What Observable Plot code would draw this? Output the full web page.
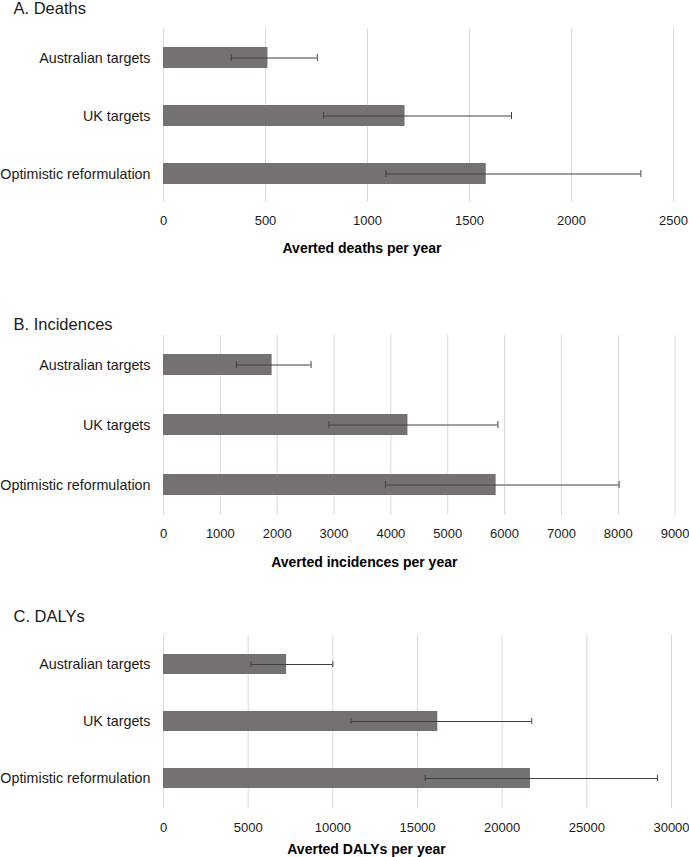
<!DOCTYPE html>
<html>
<head>
<meta charset="utf-8">
<script src="https://cdn.jsdelivr.net/npm/d3@7"></script>
<script src="https://cdn.jsdelivr.net/npm/@observablehq/plot@0.6"></script>
<style>
  html, body { margin: 0; padding: 0; background: #fff; }
  #wrap { position: relative; width: 689px; height: 857px; overflow: hidden; }
  .panel { position: absolute; left: 0; }
  svg { font-family: "Liberation Sans", Arial, sans-serif; overflow: visible; }
</style>
</head>
<body>
<div id="wrap"></div>
<script>
const categories = ["Australian targets", "UK targets", "Optimistic reformulation"];

const deaths = [512, 1184, 1582];
const deathsLow = [332, 784, 1090];
const deathsHigh = [754, 1706, 2340];
const deathTicks = [0, 500, 1000, 1500, 2000, 2500];

const incidences = [1911, 4300, 5852];
const incidencesLow = [1282, 2911, 3904];
const incidencesHigh = [2596, 5883, 8015];
const incidenceTicks = [0, 1000, 2000, 3000, 4000, 5000, 6000, 7000, 8000, 9000];

const dalys = [7270, 16200, 21670];
const dalysLow = [5160, 11070, 15450];
const dalysHigh = [10000, 21750, 29170];
const dalyTicks = [0, 5000, 10000, 15000, 20000, 25000, 30000];

const panelTitles = ["A. Deaths", "B. Incidences", "C. DALYs"];
const axisTitles = ["Averted deaths per year", "Averted incidences per year", "Averted DALYs per year"];

const panels = [
  {title: panelTitles[0], axis: axisTitles[0], v: deaths, lo: deathsLow, hi: deathsHigh, ticks: deathTicks,
   top: 0, height: 270, mt: 28, mb: 68, mr: 16, titleDy: -19.5, tickPad: 13, axisDy: 45.6, axisDx: -56.5},
  {title: panelTitles[1], axis: axisTitles[1], v: incidences, lo: incidencesLow, hi: incidencesHigh, ticks: incidenceTicks,
   top: 290, height: 300, mt: 45, mb: 75, mr: 14.4, titleDy: -10.3, tickPad: 13.3, axisDy: 47.3, axisDx: -55},
  {title: panelTitles[2], axis: axisTitles[2], v: dalys, lo: dalysLow, hi: dalysHigh, ticks: dalyTicks,
   top: 590, height: 267, mt: 45, mb: 49, mr: 18, titleDy: -18.3, tickPad: 14, axisDy: 40.6, axisDx: -51}
];

const wrap = document.getElementById("wrap");

for (const p of panels) {
  const data = categories.map((c, i) => ({cat: c, value: p.v[i], lo: p.lo[i], hi: p.hi[i]}));
  const chart = Plot.plot({
    width: 689,
    height: p.height,
    marginTop: p.mt,
    marginBottom: p.mb,
    marginLeft: 163,
    marginRight: p.mr,
    style: {fontFamily: '"Liberation Sans", Arial, sans-serif', background: "#fff", color: "#262626"},
    x: {domain: [p.ticks[0], p.ticks[p.ticks.length - 1]], label: null},
    y: {domain: categories, paddingInner: 0.645, paddingOuter: 0.3225, label: null},
    marks: [
      Plot.ruleX(p.ticks, {stroke: "#d9d9d9", strokeWidth: 1}),
      Plot.barX(data, {x: "value", y: "cat", fill: "#767171"}),
      Plot.ruleY(data, {x1: "lo", x2: "hi", y: "cat", stroke: "#404040", strokeWidth: 1}),
      Plot.tickX(data, {x: "lo", y: "cat", stroke: "#404040", strokeWidth: 1, insetTop: 7, insetBottom: 7}),
      Plot.tickX(data, {x: "hi", y: "cat", stroke: "#404040", strokeWidth: 1, insetTop: 7, insetBottom: 7}),
      Plot.axisX({ticks: p.ticks, tickSize: 0, tickPadding: p.tickPad, fontSize: 13, label: null, tickFormat: d => String(d), fill: "#1a1a1a"}),
      Plot.axisY({tickSize: 0, tickPadding: 13, fontSize: 14.3, label: null, fill: "#1a1a1a"}),
      Plot.text([p.axis], {frameAnchor: "bottom", dy: p.axisDy, dx: p.axisDx, lineAnchor: "middle", fontSize: 14, fontWeight: "bold", fill: "#000"}),
      Plot.text([p.title], {frameAnchor: "top-left", dx: -150, dy: p.titleDy, lineAnchor: "middle", textAnchor: "start", fontSize: 16.5, fill: "#1a1a1a"})
    ]
  });
  const div = document.createElement("div");
  div.className = "panel";
  div.style.top = p.top + "px";
  div.appendChild(chart);
  wrap.appendChild(div);
}
</script>
</body>
</html>
